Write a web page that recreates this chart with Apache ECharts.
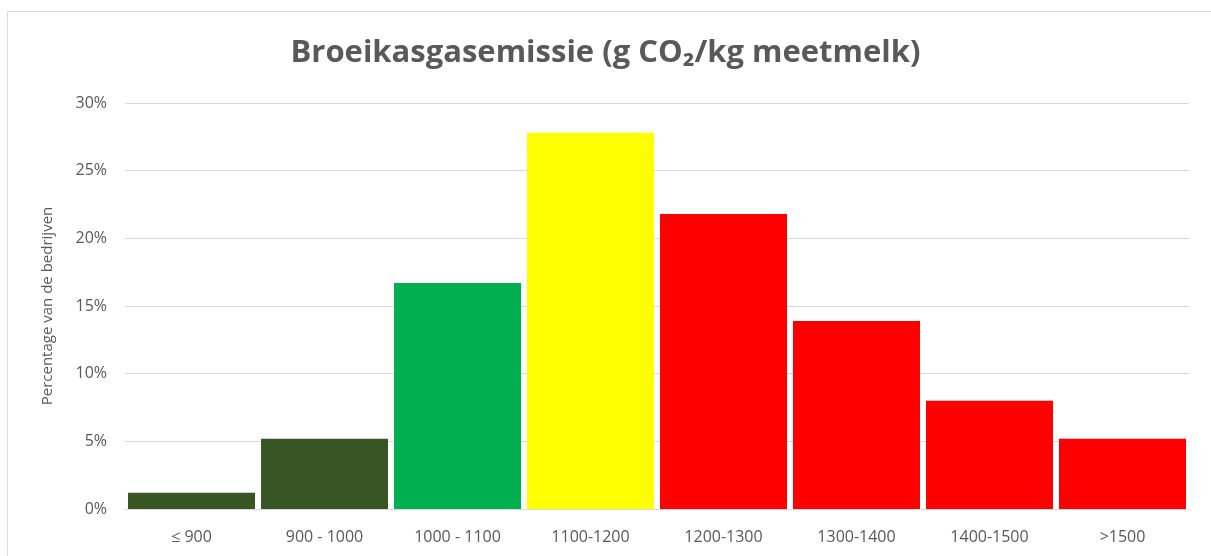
<!DOCTYPE html>
<html>
<head>
<meta charset="utf-8">
<script src="https://cdn.jsdelivr.net/npm/echarts@6/dist/echarts.min.js"></script>
<style>
  html, body { margin: 0; padding: 0; background: #fff; }
  #chart { width: 1211px; height: 556px; }
</style>
</head>
<body>
<div id="chart"></div>
<script>
// klassen broeikasgasemissie
var categories = ["≤ 900", "900 - 1000", "1000 - 1100", "1100-1200", "1200-1300", "1300-1400", "1400-1500", ">1500"];
// percentage van de bedrijven per klasse
var percentages = [1.2, 5.2, 16.7, 27.8, 21.8, 13.9, 8.0, 5.2];
var barColors = ["#375623", "#375623", "#00b050", "#ffff00", "#ff0000", "#ff0000", "#ff0000", "#ff0000"];

var chart = echarts.init(document.getElementById("chart"));
var textColor = "#595959";
var font = "'Open Sans', 'Liberation Sans', sans-serif";

chart.setOption({
  animation: false,
  title: {
    text: "Broeikasgasemissie (g CO₂/kg meetmelk)",
    left: "center",
    top: 33,
    textStyle: { color: textColor, fontSize: 31, fontWeight: "bold", fontFamily: font }
  },
  graphic: [{
    type: "rect",
    shape: { x: 7.5, y: 11.5, width: 1300, height: 700 },
    style: { fill: "none", stroke: "#d9d9d9", lineWidth: 1 }
  }],
  grid: { left: 125, right: 22, top: 103, bottom: 47 },
  xAxis: {
    type: "category",
    data: categories,
    axisTick: { show: false },
    axisLine: { lineStyle: { color: "#d9d9d9", width: 1 } },
    axisLabel: { color: textColor, fontSize: 16, fontFamily: font, margin: 20 }
  },
  yAxis: {
    type: "value",
    min: 0,
    max: 30,
    interval: 5,
    name: "Percentage van de bedrijven",
    nameLocation: "middle",
    nameGap: 70,
    nameTextStyle: { color: textColor, fontSize: 15, fontFamily: font },
    axisLabel: { color: textColor, fontSize: 16, fontFamily: font, margin: 18, formatter: "{value}%" },
    splitLine: { lineStyle: { color: "#d9d9d9", width: 1 } }
  },
  series: [{
    type: "bar",
    barCategoryGap: "4.5%",
    data: percentages.map(function (v, i) {
      return { value: v, itemStyle: { color: barColors[i] } };
    })
  }]
});
</script>
</body>
</html>
